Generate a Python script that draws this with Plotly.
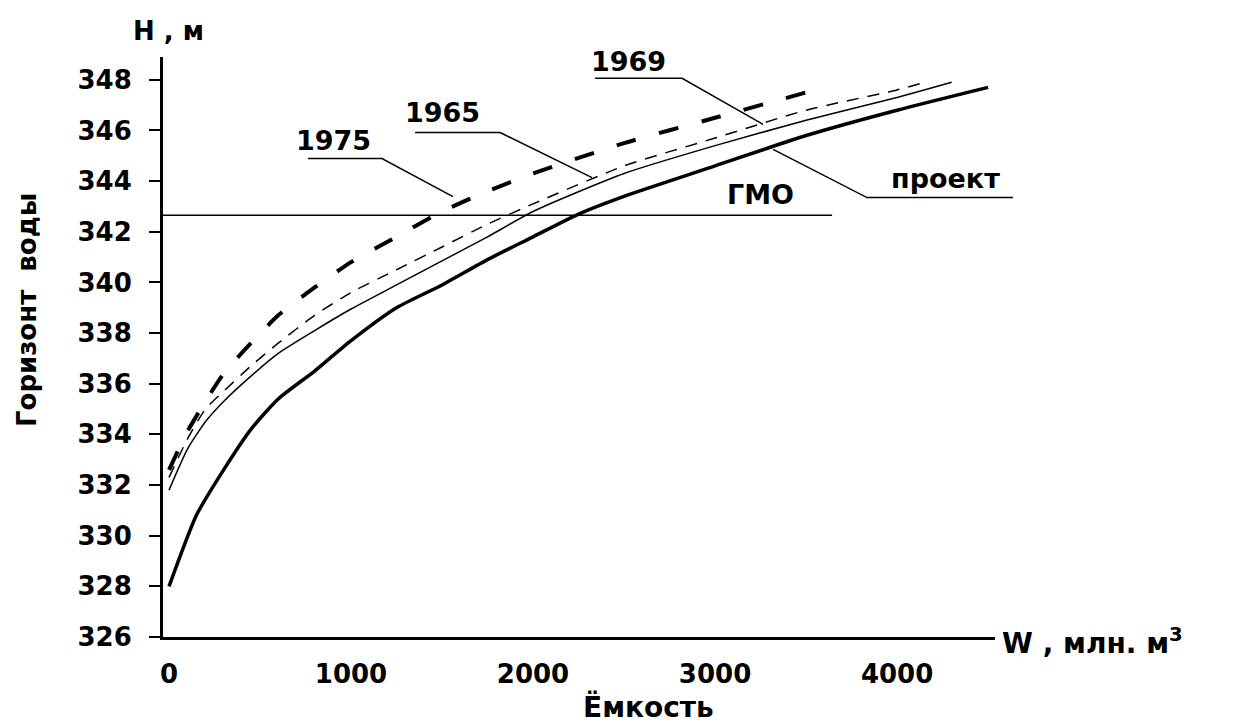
import plotly.graph_objects as go

# Емкость водохранилища W (млн. м3) и горизонт воды H (м) по кривым разных лет
W_PROJ = [0, 150, 300, 450, 600, 800, 1000, 1250, 1500, 1750, 2000, 2250, 2500, 3000, 3500, 4000, 4500]
H_PROJ = [328.0, 330.8, 332.6, 334.2, 335.4, 336.5, 337.7, 339.0, 339.9, 340.9, 341.8, 342.7, 343.4, 344.6, 345.8, 346.8, 347.7]

W_1965 = [0, 100, 200, 300, 450, 600, 800, 1000, 1250, 1500, 1750, 2000, 2500, 3000, 3500, 4000, 4300]
H_1965 = [331.8, 333.4, 334.5, 335.3, 336.3, 337.2, 338.1, 338.95, 339.9, 340.85, 341.8, 342.8, 344.3, 345.4, 346.4, 347.3, 347.9]

W_1969 = [0, 100, 200, 300, 450, 600, 800, 1000, 1250, 1500, 1750, 2000, 2500, 3000, 3500, 4000, 4150]
H_1969 = [332.3, 333.8, 335.0, 335.7, 336.7, 337.6, 338.7, 339.6, 340.5, 341.4, 342.3, 343.1, 344.6, 345.7, 346.8, 347.6, 347.9]

W_1975 = [0, 100, 200, 300, 450, 600, 800, 1000, 1250, 1500, 1750, 2000, 2500, 3000, 3550]
H_1975 = [332.6, 334.1, 335.3, 336.4, 337.6, 338.7, 339.8, 340.8, 341.8, 342.8, 343.6, 344.3, 345.5, 346.5, 347.6]

# Горизонт мертвого объема
GMO_LEVEL = 342.65
GMO_W_END = 3643

X_TICKS = [0, 1000, 2000, 3000, 4000]
Y_TICKS = [326, 328, 330, 332, 334, 336, 338, 340, 342, 344, 346, 348]

XMIN, XMAX = -33, 4538
YMIN, YMAX = 326, 348.9

FONT = "DejaVu Sans, Arial, sans-serif"


def to_paper(w, h):
    return (w - XMIN) / (XMAX - XMIN), (h - YMIN) / (YMAX - YMIN)


fig = go.Figure()

curves = [
    (W_1975, H_1975, dict(color="black", width=4, dash="20px,24px")),
    (W_1969, H_1969, dict(color="black", width=1.5, dash="12px,9px")),
    (W_1965, H_1965, dict(color="black", width=1.5)),
    (W_PROJ, H_PROJ, dict(color="black", width=3.5)),
]
for w, h, ln in curves:
    fig.add_trace(go.Scatter(x=w, y=h, mode="lines",
                             line=dict(shape="spline", smoothing=0.6, **ln),
                             showlegend=False, hoverinfo="skip"))

shapes = []
# линия ГМО от оси ординат
x0, y0 = to_paper(XMIN, GMO_LEVEL)
x1, _ = to_paper(GMO_W_END, GMO_LEVEL)
shapes.append(dict(type="line", xref="paper", yref="paper", x0=x0, y0=y0, x1=x1, y1=y0,
                   line=dict(color="black", width=1.5)))

# выноски к подписям кривых: (текст, точка текста, ломаная выноски)
callouts = [
    ("1975", (901, 345.60), [(764, 344.89), (1170, 344.89), (1560, 343.39)]),
    ("1965", (1505, 346.71), [(1352, 345.92), (1819, 345.92), (2324, 344.14)]),
    ("1969", (2522, 348.73), [(2341, 348.06), (2819, 348.06), (3264, 346.24)]),
    ("проект", (4264, 344.10), [(4637, 343.35), (3835, 343.35), (3319, 345.25)]),
]
annotations = []
for text, (tw, th), pts in callouts:
    path = ""
    for i, (w, h) in enumerate(pts):
        px, py = to_paper(w, h)
        path += ("M" if i == 0 else "L") + f"{px:.5f},{py:.5f} "
    shapes.append(dict(type="path", xref="paper", yref="paper", path=path.strip(),
                       line=dict(color="black", width=1.5)))
    tx, ty = to_paper(tw, th)
    annotations.append(dict(xref="paper", yref="paper", x=tx, y=ty, text=text,
                            showarrow=False, xanchor="center", yanchor="middle",
                            font=dict(family=FONT, size=27, color="black", weight="bold")))

gx, gy = to_paper(3247, 343.47)
annotations.append(dict(xref="paper", yref="paper", x=gx, y=gy, text="ГМО", showarrow=False,
                        xanchor="center", yanchor="middle",
                        font=dict(family=FONT, size=27, color="black", weight="bold")))

# подписи осей
W_PLOT = 1258 - 163 - 263
H_PLOT = 637 - 57
annotations += [
    dict(xref="paper", yref="paper", x=(168 - 163) / W_PLOT, y=(637 - 31) / H_PLOT,
         text="H , м", showarrow=False, xanchor="center", yanchor="middle",
         font=dict(family=FONT, size=26, color="black", weight="bold")),
    dict(xref="paper", yref="paper", x=(27 - 163) / W_PLOT, y=(637 - 310) / H_PLOT,
         text="Горизонт  воды", textangle=-90, showarrow=False, xanchor="center", yanchor="middle",
         font=dict(family=FONT, size=26, color="black", weight="bold")),
    dict(xref="paper", yref="paper", x=(648 - 163) / W_PLOT, y=(637 - 707) / H_PLOT,
         text="Ёмкость", showarrow=False, xanchor="center", yanchor="middle",
         font=dict(family=FONT, size=28, color="black", weight="bold")),
    dict(xref="paper", yref="paper", x=(1000 - 163) / W_PLOT, y=(637 - 641) / H_PLOT,
         text="W , млн. м<sup>3</sup>", showarrow=False, xanchor="left", yanchor="middle",
         font=dict(family=FONT, size=28, color="black", weight="bold")),
]

fig.update_layout(
    width=1258, height=724,
    margin=dict(l=163, r=263, t=57, b=87),
    paper_bgcolor="white", plot_bgcolor="white",
    shapes=shapes, annotations=annotations,
    showlegend=False,
)
fig.update_xaxes(range=[XMIN, XMAX], tickvals=X_TICKS, ticks="", showgrid=False, zeroline=False,
                 showline=True, linecolor="black", linewidth=3, ticklabelstandoff=12,
                 tickfont=dict(family=FONT, size=26, color="black", weight="bold"))
fig.update_yaxes(range=[YMIN, YMAX], tickvals=Y_TICKS, ticks="outside", ticklen=11, tickwidth=2,
                 tickcolor="black", showgrid=False, zeroline=False,
                 showline=True, linecolor="black", linewidth=3, ticklabelstandoff=12,
                 tickfont=dict(family=FONT, size=26, color="black", weight="bold"))

fig.write_html("out.html")
